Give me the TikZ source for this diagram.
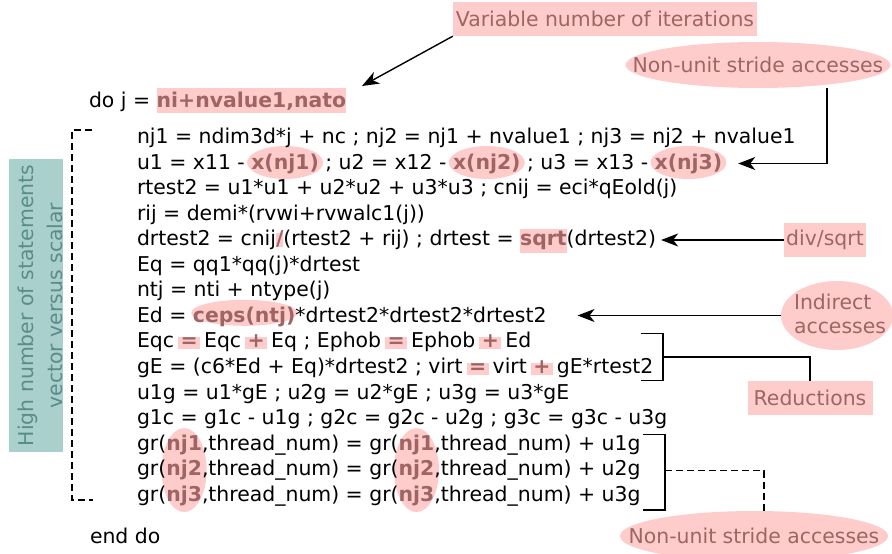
\documentclass[tikz,border=0pt]{standalone}
\usepackage{fontspec}
\setmainfont{DejaVu Sans}
\usetikzlibrary{arrows.meta,shapes.geometric,backgrounds}

\definecolor{hlpink}{RGB}{255,204,204}
\definecolor{hltext}{RGB}{160,100,100}
\definecolor{tealbox}{RGB}{169,208,205}
\definecolor{tealtext}{RGB}{90,140,137}
\newcommand{\codefont}{\fontsize{20.4}{25.5}\selectfont}
\newcommand{\gap}{\kern\fontdimen2\font}

\tikzset{
  code/.style={anchor=base west, inner sep=0pt, outer sep=0pt, font=\codefont},
  hlcode/.style={code, text=hltext, font=\codefont\bfseries},
  callout/.style={fill=hlpink, text=hltext, font=\codefont, inner sep=0pt},
  calloutell/.style={ellipse, fill=hlpink, inner sep=0pt},
  callouttext/.style={text=hltext, font=\fontsize{20.4}{24}\selectfont, inner sep=0pt},
  arr/.style={-{Stealth[length=17pt,width=13pt,inset=5pt]}, line width=1.4pt},
  bracketline/.style={line width=1.4pt},
  dashline/.style={line width=1.3pt, dash pattern=on 7pt off 4pt},
}

\begin{document}
\begin{tikzpicture}[x=1pt,y=1pt]
            \useasboundingbox (0,0) rectangle (892,-554);
            % Loop header
            \node[code] (do) at (89,-107.3) {do j =\gap};
            \node[hlcode] (range) at (do.base east) {ni+nvalue1,nato};
            % Loop body
            \node[code] (l1) at (137,-143.5) {nj1 = ndim3d*j + nc ; nj2 = nj1 + nvalue1 ; nj3 = nj2 + nvalue1};
            \node[code] (l2a) at (137,-169.05) {u1 = x11 -\gap};
            \node[hlcode] (x1) at (l2a.base east) {x(nj1)};
            \node[code] (l2b) at (x1.base east) {\gap; u2 = x12 -\gap};
            \node[hlcode] (x2) at (l2b.base east) {x(nj2)};
            \node[code] (l2c) at (x2.base east) {\gap; u3 = x13 -\gap};
            \node[hlcode] (x3) at (l2c.base east) {x(nj3)};
            \node[code] (l3) at (137,-194.6) {rtest2 = u1*u1 + u2*u2 + u3*u3 ; cnij = eci*qEold(j)};
            \node[code] (l4) at (137,-220.15) {rij = demi*(rvwi+rvwalc1(j))};
            \node[code] (l5a) at (137,-245.7) {drtest2 = cnij};
            \node[hlcode] (dv) at (l5a.base east) {/};
            \node[code] (l5b) at (dv.base east) {(rtest2 + rij) ; drtest =\gap};
            \node[hlcode] (sq) at (l5b.base east) {sqrt};
            \node[code] (l5c) at (sq.base east) {(drtest2)};
            \node[code] (l6) at (137,-271.25) {Eq = qq1*qq(j)*drtest};
            \node[code] (l7) at (137,-296.8) {ntj = nti + ntype(j)};
            \node[code] (l8a) at (137,-322.35) {Ed =\gap};
            \node[hlcode] (ce) at (l8a.base east) {ceps(ntj)};
            \node[code] (l8b) at (ce.base east) {*drtest2*drtest2*drtest2};
            \node[code] (l9a) at (137,-347.9) {Eqc\gap};
            \node[hlcode] (e1) at (l9a.base east) {=};
            \node[code] (l9b) at (e1.base east) {\gap Eqc\gap};
            \node[hlcode] (p1) at (l9b.base east) {+};
            \node[code] (l9c) at (p1.base east) {\gap Eq ; Ephob\gap};
            \node[hlcode] (e2) at (l9c.base east) {=};
            \node[code] (l9d) at (e2.base east) {\gap Ephob\gap};
            \node[hlcode] (p2) at (l9d.base east) {+};
            \node[code] (l9e) at (p2.base east) {\gap Ed};
            \node[code] (l10a) at (137,-373.45) {gE = (c6*Ed + Eq)*drtest2 ; virt\gap};
            \node[hlcode] (e3) at (l10a.base east) {=};
            \node[code] (l10b) at (e3.base east) {\gap virt\gap};
            \node[hlcode] (p3) at (l10b.base east) {+};
            \node[code] (l10c) at (p3.base east) {\gap gE*rtest2};
            \node[code] (l11) at (137,-399) {u1g = u1*gE ; u2g = u2*gE ; u3g = u3*gE};
            \node[code] (l12) at (137,-424.55) {g1c = g1c - u1g ; g2c = g2c - u2g ; g3c = g3c - u3g};
            \node[code] (l13a) at (137,-450.1) {gr(};
            \node[hlcode] (n1a) at (l13a.base east) {nj1};
            \node[code] (l13b) at (n1a.base east) {,thread\_num) = gr(};
            \node[hlcode] (n1b) at (l13b.base east) {nj1};
            \node[code] (l13c) at (n1b.base east) {,thread\_num) + u1g};
            \node[code] (l14a) at (137,-475.65) {gr(};
            \node[hlcode] (n2a) at (l14a.base east) {nj2};
            \node[code] (l14b) at (n2a.base east) {,thread\_num) = gr(};
            \node[hlcode] (n2b) at (l14b.base east) {nj2};
            \node[code] (l14c) at (n2b.base east) {,thread\_num) + u2g};
            \node[code] (l15a) at (137,-501.2) {gr(};
            \node[hlcode] (n3a) at (l15a.base east) {nj3};
            \node[code] (l15b) at (n3a.base east) {,thread\_num) = gr(};
            \node[hlcode] (n3b) at (l15b.base east) {nj3};
            \node[code] (l15c) at (n3b.base east) {,thread\_num) + u3g};
            \node[code] (enddo) at (90,-543.3) {end do};
            % Highlights
            \begin{scope}[on background layer]
              \fill[hlpink] ([yshift=-6pt]range.base west) rectangle ([yshift=19pt]range.base east);
              \fill[hlpink] ([yshift=-1.3pt]dv.base west) rectangle ([yshift=12.7pt]dv.base east);
              \fill[hlpink] ([yshift=-7.6pt]sq.base west) rectangle ([yshift=16.7pt]sq.base east);
              \foreach \op in {e1,p1,e2,p2,e3,p3}
                \fill[hlpink] ([shift={(-2.5pt,-1.5pt)}]\op.base west) rectangle ([shift={(2.5pt,10.5pt)}]\op.base east);
              \foreach \acc in {x1,x2,x3}
                \fill[hlpink] ([yshift=1pt]\acc.center) ellipse [x radius=38pt, y radius=16.5pt];
              \fill[hlpink] ([yshift=4pt]ce.center) ellipse [x radius=53pt, y radius=13pt];
              \fill[hlpink] (n2a.center) ellipse [x radius=22.5pt, y radius=42pt];
              \fill[hlpink] (n2b.center) ellipse [x radius=22.5pt, y radius=42pt];
            \end{scope}
            % Vector versus scalar
            \node[fill=tealbox, minimum width=293pt, minimum height=54pt, rotate=90] (vbox) at (36,-305.5) {};
            \node[text=tealtext, font=\fontsize{20.4}{29}\selectfont, align=center, inner sep=0pt, rotate=90] (vtxt) at (40,-305.5) {High number of statements\\vector versus scalar};
            \draw[dashline] (92,-130) -- (72,-130) -- (72,-500) -- (93,-500);
            % Callouts
            \node[callout, minimum width=304pt, minimum height=34pt] (iter) at (605,-19) {Variable number of iterations};
            \node[calloutell, minimum width=265pt, minimum height=46pt, label={[callouttext]center:Non-unit stride accesses}] (nus1) at (758,-65) {};
            \node[callout, minimum width=82pt, minimum height=34pt] (divs) at (825,-240) {div/sqrt};
            \node[calloutell, minimum width=112pt, minimum height=69pt, label={[callouttext, align=left, xshift=3pt, yshift=2pt]center:Indirect\\accesses}] (indir) at (837,-315.5) {};
            \node[callout, minimum width=125pt, minimum height=34pt] (red) at (810,-398) {Reductions};
            \node[calloutell, minimum width=268pt, minimum height=50pt, label={[callouttext]center:Non-unit stride accesses}] (nus2) at (754,-536) {};
            % Arrows
            \coordinate (itertip) at (362,-86);
            \draw[arr] (iter.south west) -- (itertip);
            \draw[arr] ([xshift=69pt]nus1.south) |- ([xshift=16pt]x3.east);
            \draw[arr] (divs.west) -- ([xshift=5pt]l5c.east |- divs.west);
            \draw[arr] (indir.west) -- ([xshift=31pt]l8b.east |- indir.west);
            % Brackets
            \draw[bracketline] (641,-333.5) -| (663,-380.5) -- (641,-380.5);
            \coordinate (redjoin) at (663,-357);
            \draw[bracketline] (redjoin) -| (red.north);
            \draw[bracketline] (643,-434.5) -| (665,-510) -- (643,-510);
            \coordinate (nusjoin) at (665,-470.5);
            \draw[dashline] (nusjoin) -| ([xshift=10pt,yshift=-1pt]nus2.north);
        \end{tikzpicture}
\end{document}
